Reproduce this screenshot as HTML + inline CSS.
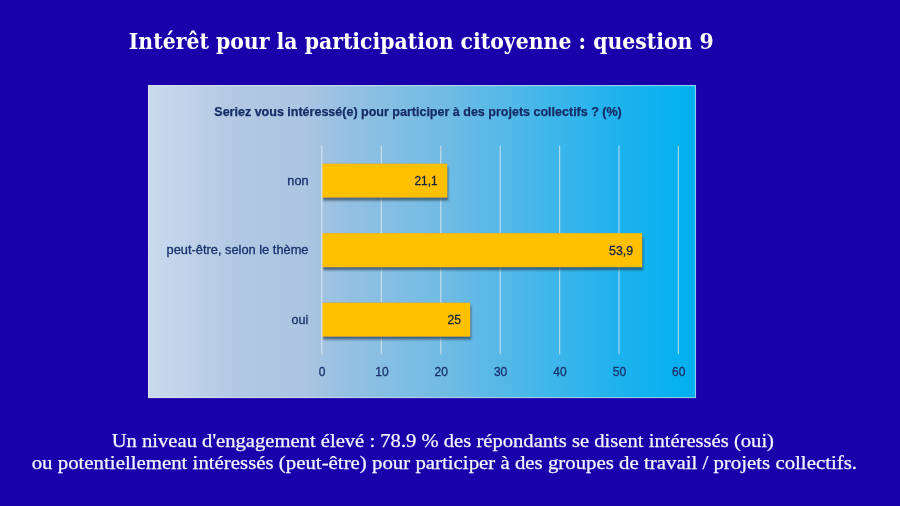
<!DOCTYPE html>
<html lang="fr">
<head>
<meta charset="utf-8">
<title>Intérêt pour la participation citoyenne : question 9</title>
<style>
  html, body { margin: 0; padding: 0; }
  body { width: 900px; height: 506px; overflow: hidden; background: #1a00aa; }
  svg { display: block; position: absolute; left: 0; top: 0; will-change: transform; }
  .serif { font-family: "Liberation Serif", "DejaVu Serif", serif; }
  .serifb { font-family: "DejaVu Serif", "Liberation Serif", serif; }
  .sans { font-family: "Liberation Sans", "DejaVu Sans", sans-serif; }
</style>
</head>
<body>
<svg width="900" height="506" viewBox="0 0 900 506">
  <defs>
    <linearGradient id="bg" x1="0" y1="0" x2="1" y2="0">
      <stop offset="0" stop-color="rgb(201,218,237)"/>
      <stop offset="0.17" stop-color="rgb(177,199,227)"/>
      <stop offset="0.28" stop-color="rgb(173,197,226)"/>
      <stop offset="0.365" stop-color="rgb(148,192,226)"/>
      <stop offset="0.55" stop-color="rgb(110,187,228)"/>
      <stop offset="0.73" stop-color="rgb(64,182,234)"/>
      <stop offset="0.86" stop-color="rgb(30,178,238)"/>
      <stop offset="1" stop-color="rgb(0,176,240)"/>
    </linearGradient>
    <filter id="sh" filterUnits="userSpaceOnUse" x="300" y="140" width="380" height="230">
      <feGaussianBlur in="SourceAlpha" stdDeviation="1.3"/>
      <feOffset dx="1.4" dy="2.8" result="b"/>
      <feFlood flood-color="#20344a" flood-opacity="0.66"/>
      <feComposite in2="b" operator="in" result="s1"/>
      <feGaussianBlur in="SourceAlpha" stdDeviation="0.5" result="b2"/>
      <feFlood flood-color="#1c3350" flood-opacity="0.7"/>
      <feComposite in2="b2" operator="in" result="s2"/>
      <feMerge><feMergeNode in="s1"/><feMergeNode in="s2"/><feMergeNode in="SourceGraphic"/></feMerge>
    </filter>
    <clipPath id="plotclip"><rect x="322" y="140" width="372" height="230"/></clipPath>
  </defs>

  <rect x="0" y="0" width="900" height="506" fill="#1a00aa"/>

  <!-- slide title -->
  <text class="serifb" x="128.8" y="48.6" font-size="21.4" font-weight="bold" fill="#ffffff" textLength="585" lengthAdjust="spacingAndGlyphs">Intérêt pour la participation citoyenne : question 9</text>

  <!-- chart frame -->
  <rect x="148" y="85" width="548" height="313" fill="url(#bg)"/>
  <rect x="148.5" y="85.6" width="547" height="312" fill="none" stroke="#e4e6e8" stroke-opacity="0.6" stroke-width="1.1"/>

  <!-- chart title -->
  <text class="sans" x="214.3" y="115.7" font-size="12" font-weight="bold" fill="#162c66" stroke="#162c66" stroke-width="0.25" textLength="407.5" lengthAdjust="spacingAndGlyphs">Seriez vous intéressé(e) pour participer à des projets collectifs ? (%)</text>

  <!-- gridlines -->
  <g stroke="#ececec" stroke-opacity="0.66" stroke-width="1.25">
    <line x1="381.4" y1="145.8" x2="381.4" y2="354.3"/>
    <line x1="440.8" y1="145.8" x2="440.8" y2="354.3"/>
    <line x1="500.2" y1="145.8" x2="500.2" y2="354.3"/>
    <line x1="559.6" y1="145.8" x2="559.6" y2="354.3"/>
    <line x1="619" y1="145.8" x2="619" y2="354.3"/>
    <line x1="678.4" y1="145.8" x2="678.4" y2="354.3"/>
  </g>

  <!-- bars -->
  <g clip-path="url(#plotclip)"><g fill="#ffc000" filter="url(#sh)">
    <rect x="322.1" y="163.7" width="125.1" height="33.8"/>
    <rect x="322.1" y="233.2" width="320" height="33.9"/>
    <rect x="322.1" y="302.7" width="148" height="33.8"/>
  </g></g>

  <!-- value axis line (drawn over the bars) -->
  <line x1="321.8" y1="145.8" x2="321.8" y2="354.3" stroke="#e4e9f0" stroke-opacity="0.7" stroke-width="1.4"/>

  <!-- category labels -->
  <g class="sans" font-size="12" fill="#19326c" stroke="#19326c" stroke-width="0.3" text-anchor="end">
    <text x="308.6" y="184.8" textLength="21.3" lengthAdjust="spacingAndGlyphs">non</text>
    <text x="308.5" y="254.2" textLength="142" lengthAdjust="spacingAndGlyphs">peut-être, selon le thème</text>
    <text x="308.4" y="324" textLength="16.8" lengthAdjust="spacingAndGlyphs">oui</text>
  </g>

  <!-- value labels -->
  <g class="sans" font-size="12" fill="#17243f" stroke="#17243f" stroke-width="0.3" text-anchor="end">
    <text x="437.5" y="184.9" textLength="23" lengthAdjust="spacingAndGlyphs">21,1</text>
    <text x="633" y="255.2" textLength="23.9" lengthAdjust="spacingAndGlyphs">53,9</text>
    <text x="461" y="324.2" textLength="13.5" lengthAdjust="spacingAndGlyphs">25</text>
  </g>

  <!-- axis labels -->
  <g class="sans" font-size="12" fill="#19326c" stroke="#19326c" stroke-width="0.3" text-anchor="middle">
    <text x="322" y="376.4">0</text>
    <text x="382" y="376.4">10</text>
    <text x="441.2" y="376.4">20</text>
    <text x="500.6" y="376.4">30</text>
    <text x="560" y="376.4">40</text>
    <text x="619.4" y="376.4">50</text>
    <text x="678.8" y="376.4">60</text>
  </g>

  <!-- bottom caption -->
  <g class="serif" font-size="19.8" fill="#f6f4ff" stroke="#f6f4ff" stroke-width="0.25">
    <text x="111.7" y="447.1" textLength="662.3" lengthAdjust="spacingAndGlyphs">Un niveau d'engagement élevé : 78.9 % des répondants se disent intéressés (oui)</text>
    <text x="31.7" y="468.9" textLength="825.3" lengthAdjust="spacingAndGlyphs">ou potentiellement intéressés (peut-être) pour participer à des groupes de travail / projets collectifs.</text>
  </g>
</svg>
</body>
</html>
